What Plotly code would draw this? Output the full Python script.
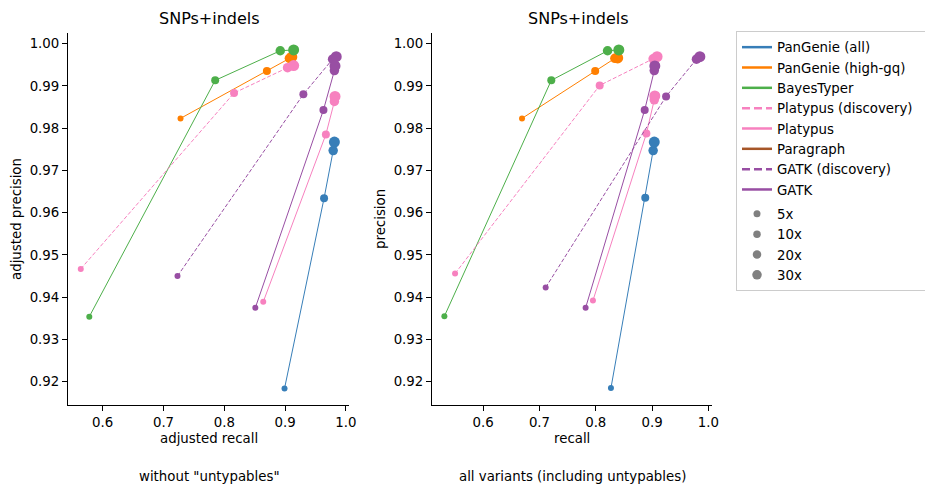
import plotly.graph_objects as go

# page body has an 8px default margin, so work in reference pixels and shift
OFF = 8
W, H = 933 - OFF, 486 - OFF

methods = ["PanGenie (all)", "PanGenie (high-gq)", "BayesTyper", "Platypus (discovery)",
           "Platypus", "Paragraph", "GATK (discovery)", "GATK"]
colors = ["#377eb8", "#ff7f00", "#4daf4a", "#f781bf", "#f781bf", "#a65628", "#984ea3", "#984ea3"]
dashes = ["solid", "solid", "solid", "dash", "solid", "solid", "dash", "solid"]

coverages = ["5x", "10x", "20x", "30x"]
marker_sizes = [6, 8, 9.5, 11]
legend_marker_sizes = [7, 7.5, 8.5, 9.5]

# Left panel: without "untypables" (adjusted recall / adjusted precision)
adj_recall = {
    "PanGenie (all)":       [0.899, 0.964, 0.979, 0.981],
    "PanGenie (high-gq)":   [0.728, 0.870, 0.907, 0.911],
    "BayesTyper":           [0.578, 0.785, 0.892, 0.914],
    "Platypus (discovery)": [0.564, 0.816, 0.904, 0.914],
    "Platypus":             [0.864, 0.967, 0.981, 0.982],
    "Paragraph":            [],
    "GATK (discovery)":     [0.723, 0.930, 0.978, 0.984],
    "GATK":                 [0.851, 0.963, 0.981, 0.982],
}
adj_precision = {
    "PanGenie (all)":       [0.9184, 0.9634, 0.9747, 0.9767],
    "PanGenie (high-gq)":   [0.9823, 0.9935, 0.9965, 0.9968],
    "BayesTyper":           [0.9354, 0.9913, 0.9983, 0.9985],
    "Platypus (discovery)": [0.9467, 0.9883, 0.9943, 0.9948],
    "Platypus":             [0.9389, 0.9785, 0.9863, 0.9875],
    "Paragraph":            [],
    "GATK (discovery)":     [0.9450, 0.9880, 0.9963, 0.9969],
    "GATK":                 [0.9375, 0.9843, 0.9936, 0.9947],
}

# Right panel: all variants (recall / precision)
recall = {
    "PanGenie (all)":       [0.827, 0.888, 0.902, 0.904],
    "PanGenie (high-gq)":   [0.669, 0.799, 0.834, 0.839],
    "BayesTyper":           [0.531, 0.721, 0.821, 0.841],
    "Platypus (discovery)": [0.550, 0.807, 0.902, 0.909],
    "Platypus":             [0.795, 0.890, 0.904, 0.905],
    "Paragraph":            [],
    "GATK (discovery)":     [0.711, 0.925, 0.979, 0.985],
    "GATK":                 [0.782, 0.887, 0.904, 0.905],
}
precision = {
    "PanGenie (all)":       [0.9185, 0.9635, 0.9747, 0.9767],
    "PanGenie (high-gq)":   [0.9823, 0.9935, 0.9965, 0.9966],
    "BayesTyper":           [0.9355, 0.9913, 0.9983, 0.9985],
    "Platypus (discovery)": [0.9456, 0.9901, 0.9964, 0.9969],
    "Platypus":             [0.9392, 0.9787, 0.9867, 0.9876],
    "Paragraph":            [],
    "GATK (discovery)":     [0.9423, 0.9875, 0.9963, 0.9969],
    "GATK":                 [0.9375, 0.9843, 0.9936, 0.9947],
}

x_ticks = [0.6, 0.7, 0.8, 0.9, 1.0]
y_ticks = [0.92, 0.93, 0.94, 0.95, 0.96, 0.97, 0.98, 0.99, 1.00]

FONT = "DejaVu Sans"
FS = 13.33
TFS = 16


def px(x):
    return (x - OFF) / W


def py(y):
    return 1 - (y - OFF) / H


fig = go.Figure()

data_dash = {"solid": "solid", "dash": "4px,2px"}
for xs, ys, xa, ya in [(adj_recall, adj_precision, "x", "y"),
                       (recall, precision, "x2", "y2")]:
    for m, c, d in zip(methods, colors, dashes):
        if not xs[m]:
            continue
        fig.add_trace(go.Scatter(
            x=xs[m], y=ys[m], xaxis=xa, yaxis=ya, mode="lines+markers",
            line=dict(color=c, width=1, dash=data_dash[d]),
            marker=dict(color=c, size=marker_sizes[:len(xs[m])], opacity=1, line=dict(width=0)),
            showlegend=False, hoverinfo="skip"))

# legend entries (longest label padded so the box is as wide as the reference)
longest = max(methods, key=len)
for m, c, d in zip(methods, colors, dashes):
    label = m + "\u00a0\u00a0\u00a0" if m == longest else m
    fig.add_trace(go.Scatter(
        x=[None], y=[None], mode="lines", name=label, legendgroup="lines",
        line=dict(color=c, width=2.5, dash="8px,4px" if d == "dash" else "solid")))
for cov, s in zip(coverages, legend_marker_sizes):
    fig.add_trace(go.Scatter(
        x=[None], y=[None], mode="markers", name=cov, legendgroup="sizes",
        marker=dict(color="#808080", size=s)))

ax_common = dict(showline=True, linecolor="black", linewidth=1, ticks="outside",
                 ticklen=5, tickwidth=1, tickcolor="black", showgrid=False, zeroline=False,
                 tickfont=dict(family=FONT, size=FS, color="black"))

ydom = [py(405), py(33)]
fig.update_layout(
    width=W, height=H, margin=dict(l=0, r=0, t=0, b=0, autoexpand=False),
    paper_bgcolor="white", plot_bgcolor="white",
    font=dict(family=FONT, size=FS, color="black"),
    xaxis=dict(domain=[px(68), px(349)], range=[0.543, 1.005], tickvals=x_ticks,
               tickformat=".1f", anchor="y", **ax_common),
    yaxis=dict(domain=ydom, range=[0.9145, 1.0025], tickvals=y_ticks,
               tickformat=".2f", anchor="x", **ax_common),
    xaxis2=dict(domain=[px(432), px(712)], range=[0.509, 1.0066], tickvals=x_ticks,
                tickformat=".1f", anchor="y2", **ax_common),
    yaxis2=dict(domain=ydom, range=[0.9145, 1.0025], tickvals=y_ticks,
                tickformat=".2f", anchor="x2", **ax_common),
    legend=dict(x=px(736), y=py(31), xanchor="left", yanchor="top",
                bordercolor="#cccccc", borderwidth=1, bgcolor="white",
                font=dict(family=FONT, size=FS, color="black"),
                traceorder="grouped", tracegroupgap=4, itemwidth=30),
)


def ann(text, x, y, size=FS, angle=0):
    fig.add_annotation(text=text, x=px(x), y=py(y), xref="paper", yref="paper",
                       showarrow=False, xanchor="center", yanchor="middle",
                       textangle=angle, font=dict(family=FONT, size=size, color="black"))


ann("SNPs+indels", 209, 19, size=TFS)
ann("SNPs+indels", 578, 19, size=TFS)
ann("adjusted precision", 17, 219, angle=-90)
ann("precision", 381, 219, angle=-90)
ann("adjusted recall", 209, 438)
ann("recall", 572, 438)
ann('without "untypables"', 209, 476)
ann("all variants (including untypables)", 572, 476)

fig.write_html("out.html",
               post_script="document.body.style.overflow='hidden';")
